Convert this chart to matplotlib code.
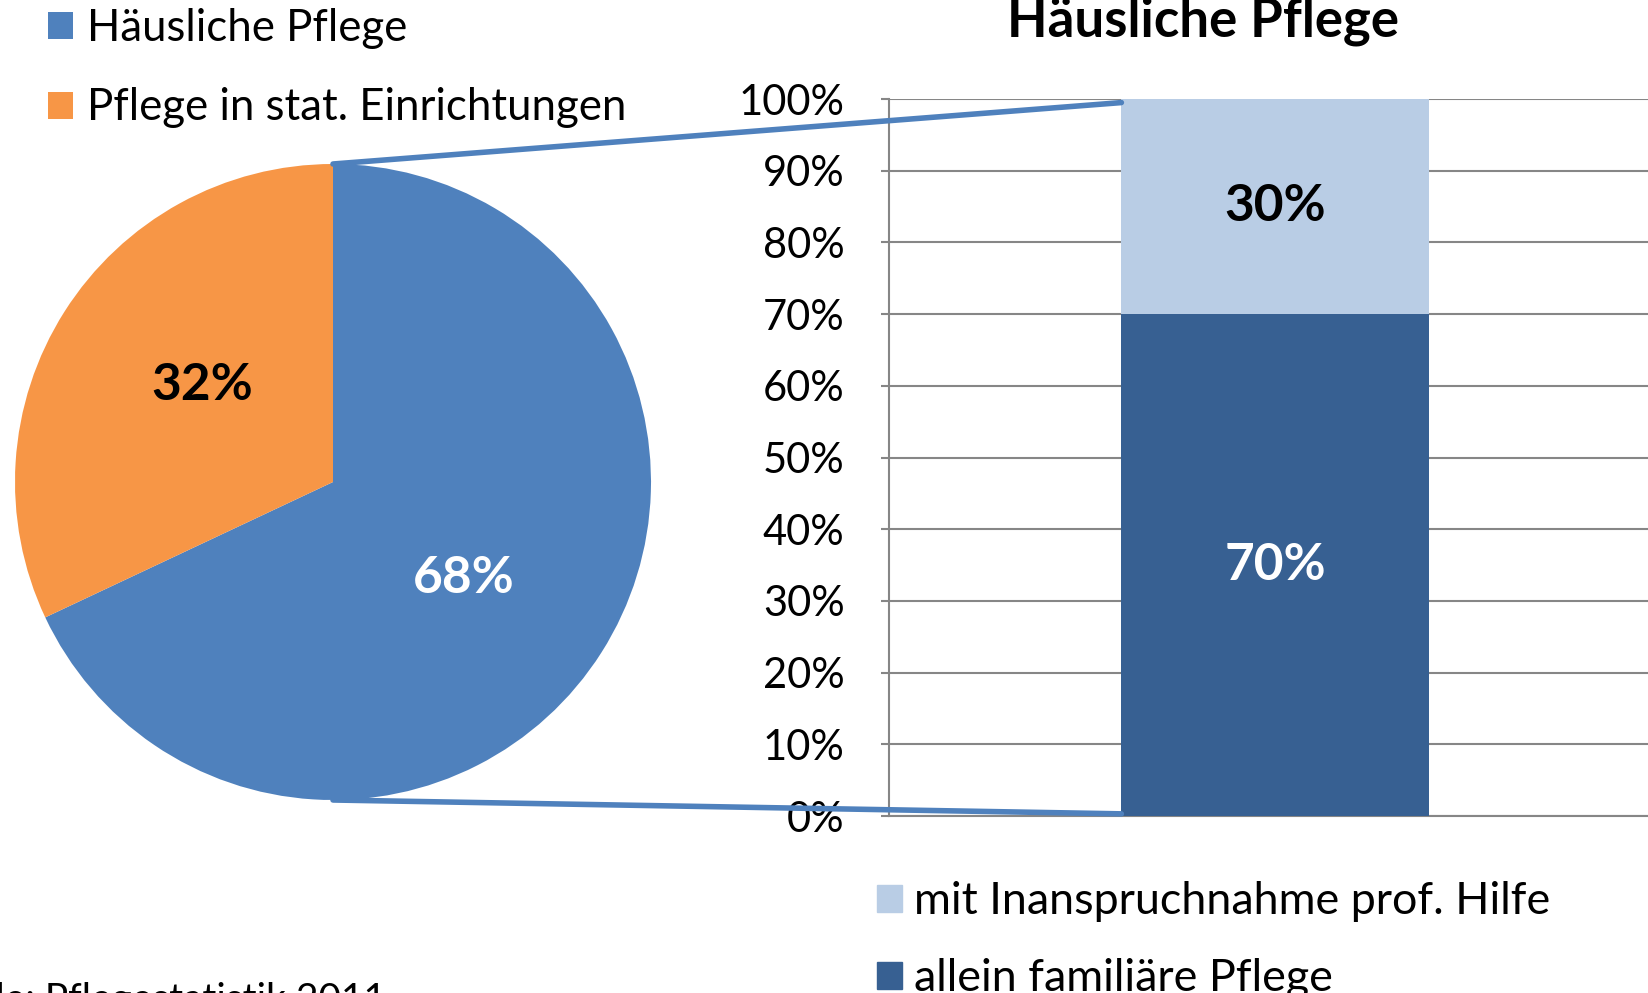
import numpy as np
import matplotlib.pyplot as plt
from matplotlib.patches import ConnectionPatch, Patch

plt.rcParams['font.family'] = ['Lato', 'DejaVu Sans']

# pie data
pie_labels = ['Häusliche Pflege', 'Pflege in stat. Einrichtungen']
pie_values = [68, 32]
pie_colors = ['#4f81bd', '#f79646']

# stacked bar data (share of häusliche Pflege)
bar_labels = ['allein familiäre Pflege', 'mit Inanspruchnahme prof. Hilfe']
bar_values = [70, 30]
bar_colors = ['#376092', '#b9cde5']
yticks = [0, 10, 20, 30, 40, 50, 60, 70, 80, 90, 100]

W, H = 1648, 993
fig = plt.figure(figsize=(W / 100, H / 100), dpi=100)

# pie
r_px = 318
lim = 1.05
side = 2 * lim * r_px
cx, cy = 333, 482
ax_pie = fig.add_axes([(cx - side / 2) / W, (H - cy - side / 2) / H, side / W, side / H])
wedges, _ = ax_pie.pie(pie_values, colors=pie_colors, startangle=90, counterclock=False,
                       wedgeprops=dict(linewidth=0))
ax_pie.set_xlim(-lim, lim)
ax_pie.set_ylim(-lim, lim)
ax_pie.set_aspect('equal')
ax_pie.axis('off')
for w, v, c in zip(wedges, pie_values, ['white', 'black']):
    mid = np.deg2rad((w.theta1 + w.theta2) / 2 - 4)
    ax_pie.text(0.51 * np.cos(mid), 0.51 * np.sin(mid), f'{v}%', ha='center', va='center',
                fontsize=37, fontweight='bold', color=c)

# bar
ax_bar = fig.add_axes([889 / W, (H - 816) / H, (1661 - 889) / W, (816 - 99) / H])
bottom = 0
for v, c, lab, tc in zip(bar_values, bar_colors, bar_labels, ['white', 'black']):
    ax_bar.bar(0, v, bottom=bottom, width=0.398, color=c, label=lab, zorder=3)
    ax_bar.text(0, bottom + v / 2, f'{v}%', ha='center', va='center', fontsize=37,
                fontweight='bold', color=tc, zorder=4)
    bottom += v
ax_bar.set_xlim(-0.5, 0.5)
ax_bar.set_ylim(0, 100)
ax_bar.set_yticks(yticks)
ax_bar.set_yticklabels([f'{t}%' for t in yticks])
ax_bar.set_xticks([])
ax_bar.tick_params(axis='y', labelsize=30, length=6, width=1.5, color='#868686', pad=26)
ax_bar.grid(axis='y', color='#868686', linewidth=1.5, zorder=0)
for s in ['top', 'right']:
    ax_bar.spines[s].set_visible(False)
for s in ['left', 'bottom']:
    ax_bar.spines[s].set_color('#868686')
    ax_bar.spines[s].set_linewidth(1.5)

fig.text(1203 / W, 1 - 37 / H, 'Häusliche Pflege', ha='center', va='baseline',
         fontsize=38, fontweight='bold')

# connector lines
x0 = -0.398 / 2
for py, by in [(1, 99.5), (-1, 0.3)]:
    con = ConnectionPatch(xyA=(0, py), coordsA=ax_pie.transData,
                          xyB=(x0, by), coordsB=ax_bar.transData,
                          color='#4f81bd', linewidth=4, zorder=10)
    fig.add_artist(con)

# legends
fig.legend(handles=wedges, labels=pie_labels, loc='upper left',
           bbox_to_anchor=(48 / W, 1 - 8 / H), frameon=False, fontsize=31.5,
           borderaxespad=0, borderpad=0,
           handlelength=0.57, handleheight=0.57, handletextpad=0.32, labelspacing=0.88)
fig.legend(handles=[Patch(color=bar_colors[1]), Patch(color=bar_colors[0])],
           labels=[bar_labels[1], bar_labels[0]], loc='upper left',
           bbox_to_anchor=(877 / W, 1 - 881 / H), frameon=False, fontsize=32.3,
           borderaxespad=0, borderpad=0,
           handlelength=0.55, handleheight=0.55, handletextpad=0.28, labelspacing=0.8)

fig.text(-87 / W, 1 - 1011 / H, 'Quelle: Pflegestatistik 2011', ha='left', va='baseline',
         fontsize=28)

fig.savefig('out.png', dpi=100)
